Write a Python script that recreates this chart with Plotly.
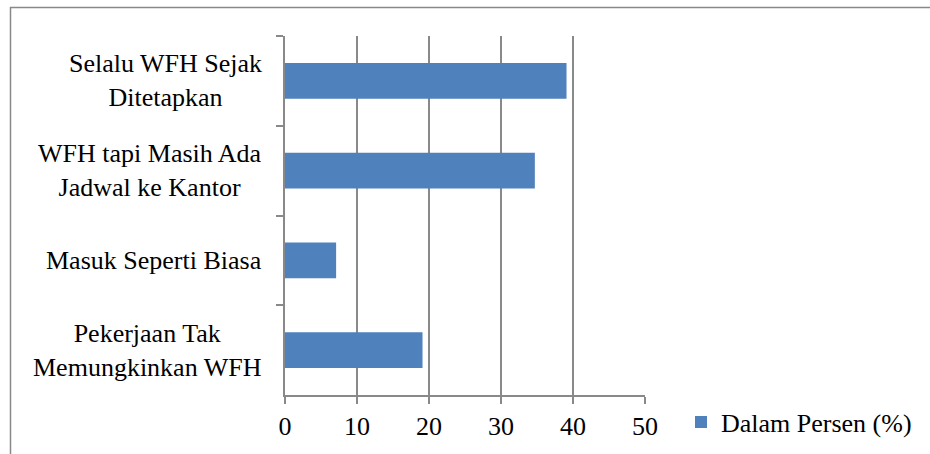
import plotly.graph_objects as go

categories = ["Selalu WFH Sejak<br>Ditetapkan",
              "WFH tapi Masih Ada<br>Jadwal ke Kantor",
              "Masuk Seperti Biasa",
              "Pekerjaan Tak<br>Memungkinkan WFH"]
values = [39.1, 34.7, 7.1, 19.1]
series_name = "Dalam Persen (%)"
x_ticks = [0, 10, 20, 30, 40, 50]

FONT = "Liberation Serif"
GRAY = "#898989"
BAR = "#4F81BD"

fig = go.Figure()
fig.add_trace(go.Bar(
    x=values, y=categories, orientation="h", name=series_name,
    marker=dict(color=BAR, line=dict(width=0)), showlegend=True,
))

W, H = 930, 454
L, R, T, B = 285, 285, 36, 59
pw = W - L - R
ph = H - T - B

annotations = []
for c in categories:
    annotations.append(dict(
        x=(264 - L) / pw, xref="paper", xanchor="right",
        y=c, yref="y", yanchor="middle",
        text=c, showarrow=False, align="center",
        font=dict(family=FONT, size=26, color="black"),
    ))

fig.update_layout(
    width=W, height=H,
    margin=dict(l=L, r=R, t=T, b=B, autoexpand=False),
    paper_bgcolor="white", plot_bgcolor="white",
    font=dict(family=FONT, size=26, color="black"),
    bargap=0.6,
    showlegend=True,
    legend=dict(x=(681 - L) / pw, xanchor="left", y=(H - B - 422) / ph,
                yanchor="middle", font=dict(family=FONT, size=26, color="black"),
                bgcolor="rgba(0,0,0,0)"),
    annotations=annotations,
    shapes=[dict(type="rect", xref="paper", yref="paper",
                 x0=(10.5 - L) / pw, x1=(960 - L) / pw,
                 y0=(H - B - 480) / ph, y1=(H - B - 7.5) / ph,
                 line=dict(color=GRAY, width=1.5), fillcolor="rgba(0,0,0,0)", layer="below")],
)
fig.update_xaxes(
    range=[0, 50], tickvals=x_ticks, ticktext=[str(v) for v in x_ticks],
    showgrid=True, gridcolor=GRAY, gridwidth=2,
    zeroline=False, showline=True, linecolor=GRAY, linewidth=2,
    ticks="outside", ticklen=7, tickcolor=GRAY, tickwidth=2,
    tickfont=dict(family=FONT, size=26, color="black"),
    fixedrange=True,
)
fig.update_yaxes(
    autorange="reversed", showticklabels=False,
    showgrid=False, zeroline=False, showline=True, linecolor=GRAY, linewidth=2,
    ticks="outside", tickson="boundaries", ticklen=7, tickcolor=GRAY, tickwidth=2,
    fixedrange=True,
)
fig.write_html("out.html")
